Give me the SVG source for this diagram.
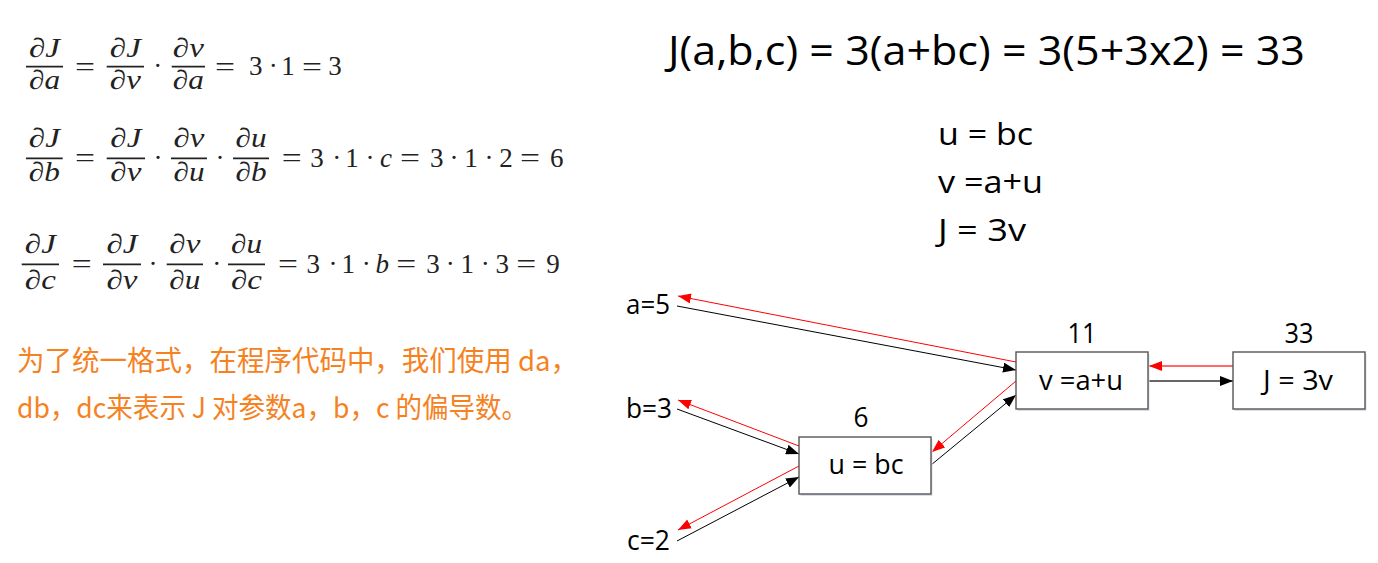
<svg xmlns="http://www.w3.org/2000/svg" width="1378" height="563" viewBox="0 0 1378 563">
<defs>
<style>
.m{font-family:"Liberation Serif","DejaVu Serif",serif;font-size:27px;fill:#222;text-anchor:middle}
.mi{font-style:italic}
.bar{stroke:#222;stroke-width:1.7}
.cn{font-family:"Noto Sans CJK SC","Microsoft YaHei",sans-serif;font-size:28px;fill:#F5821F}
.t{font-family:"Open Sans","Liberation Sans",sans-serif;fill:#000}
.lbl{font-size:27px;text-anchor:middle}
.box{fill:#fff;stroke:#555;stroke-width:1.4}
.shadow{fill:#d9e0ea}
.blk{stroke:#000;stroke-width:1;fill:none;marker-end:url(#ah-b)}
.red{stroke:#ff0000;stroke-width:1;fill:none;marker-end:url(#ah-r)}
.gry{stroke:#666;stroke-width:2;fill:none;marker-end:url(#ah-b)}
.pink{stroke:#ff6a6a;stroke-width:2.2;fill:none;marker-end:url(#ah-r)}
</style>
<marker id="ah-b" markerUnits="userSpaceOnUse" markerWidth="14" markerHeight="10" refX="13" refY="5" orient="auto"><path d="M0,0 L13,5 L0,10 z" fill="#000"/></marker>
<marker id="ah-r" markerUnits="userSpaceOnUse" markerWidth="14" markerHeight="10" refX="13" refY="5" orient="auto"><path d="M0,0 L13,5 L0,10 z" fill="#ff0000"/></marker>
</defs>
<rect width="1378" height="563" fill="#fff"/>

<!-- Left: equations -->
<g id="eq1">
<line class="bar" x1="26" y1="66.7" x2="63" y2="66.7"/>
<text class="m mi" x="44.5" y="57" textLength="31" lengthAdjust="spacingAndGlyphs">∂J</text>
<text class="m mi" x="44.5" y="89" textLength="31" lengthAdjust="spacingAndGlyphs">∂a</text>
<text class="m" x="85" y="75.5" textLength="20" lengthAdjust="spacingAndGlyphs">=</text>
<line class="bar" x1="106.7" y1="66.7" x2="144" y2="66.7"/>
<text class="m mi" x="125.3" y="57" textLength="31" lengthAdjust="spacingAndGlyphs">∂J</text>
<text class="m mi" x="125.3" y="89" textLength="31" lengthAdjust="spacingAndGlyphs">∂v</text>
<text class="m" x="157.7" y="75">·</text>
<line class="bar" x1="171.7" y1="66.7" x2="205" y2="66.7"/>
<text class="m mi" x="188.3" y="57" textLength="31" lengthAdjust="spacingAndGlyphs">∂v</text>
<text class="m mi" x="188.3" y="89" textLength="31" lengthAdjust="spacingAndGlyphs">∂a</text>
<text class="m" x="225" y="75.5" textLength="20" lengthAdjust="spacingAndGlyphs">=</text>
<text class="m" x="255.8" y="75">3</text>
<text class="m" x="273.3" y="75">·</text>
<text class="m" x="288" y="75">1</text>
<text class="m" x="312" y="75.5" textLength="20" lengthAdjust="spacingAndGlyphs">=</text>
<text class="m" x="335" y="75">3</text>
</g>

<g id="eq2">
<line class="bar" x1="26" y1="158.3" x2="62.7" y2="158.3"/>
<text class="m mi" x="44.3" y="147" textLength="31" lengthAdjust="spacingAndGlyphs">∂J</text>
<text class="m mi" x="44.3" y="181" textLength="31" lengthAdjust="spacingAndGlyphs">∂b</text>
<text class="m" x="85" y="167" textLength="20" lengthAdjust="spacingAndGlyphs">=</text>
<line class="bar" x1="106.7" y1="158.3" x2="145" y2="158.3"/>
<text class="m mi" x="125.8" y="147" textLength="31" lengthAdjust="spacingAndGlyphs">∂J</text>
<text class="m mi" x="125.8" y="181" textLength="31" lengthAdjust="spacingAndGlyphs">∂v</text>
<text class="m" x="158" y="166.5">·</text>
<line class="bar" x1="171" y1="158.3" x2="207" y2="158.3"/>
<text class="m mi" x="189" y="147" textLength="31" lengthAdjust="spacingAndGlyphs">∂v</text>
<text class="m mi" x="189" y="181" textLength="31" lengthAdjust="spacingAndGlyphs">∂u</text>
<text class="m" x="220" y="166.5">·</text>
<line class="bar" x1="233" y1="158.3" x2="269" y2="158.3"/>
<text class="m mi" x="251" y="147" textLength="31" lengthAdjust="spacingAndGlyphs">∂u</text>
<text class="m mi" x="251" y="181" textLength="31" lengthAdjust="spacingAndGlyphs">∂b</text>
<text class="m" x="291.7" y="167" textLength="20" lengthAdjust="spacingAndGlyphs">=</text>
<text class="m" x="317" y="166.5">3</text>
<text class="m" x="336.7" y="166.5">·</text>
<text class="m" x="352" y="166.5">1</text>
<text class="m" x="370" y="166.5">·</text>
<text class="m mi" x="386" y="166.5">c</text>
<text class="m" x="410" y="167" textLength="20" lengthAdjust="spacingAndGlyphs">=</text>
<text class="m" x="436.7" y="166.5">3</text>
<text class="m" x="454" y="166.5">·</text>
<text class="m" x="471" y="166.5">1</text>
<text class="m" x="489" y="166.5">·</text>
<text class="m" x="506" y="166.5">2</text>
<text class="m" x="530" y="167" textLength="20" lengthAdjust="spacingAndGlyphs">=</text>
<text class="m" x="556.7" y="166.5">6</text>
</g>

<g id="eq3">
<line class="bar" x1="21.7" y1="264.3" x2="59" y2="264.3"/>
<text class="m mi" x="40.3" y="253" textLength="31" lengthAdjust="spacingAndGlyphs">∂J</text>
<text class="m mi" x="40.3" y="289" textLength="31" lengthAdjust="spacingAndGlyphs">∂c</text>
<text class="m" x="81.8" y="273" textLength="20" lengthAdjust="spacingAndGlyphs">=</text>
<line class="bar" x1="103" y1="264.3" x2="141" y2="264.3"/>
<text class="m mi" x="122" y="253" textLength="31" lengthAdjust="spacingAndGlyphs">∂J</text>
<text class="m mi" x="122" y="289" textLength="31" lengthAdjust="spacingAndGlyphs">∂v</text>
<text class="m" x="153" y="272.5">·</text>
<line class="bar" x1="166.7" y1="264.3" x2="203" y2="264.3"/>
<text class="m mi" x="184.8" y="253" textLength="31" lengthAdjust="spacingAndGlyphs">∂v</text>
<text class="m mi" x="184.8" y="289" textLength="31" lengthAdjust="spacingAndGlyphs">∂u</text>
<text class="m" x="216.7" y="272.5">·</text>
<line class="bar" x1="228" y1="264.3" x2="265" y2="264.3"/>
<text class="m mi" x="246.5" y="253" textLength="31" lengthAdjust="spacingAndGlyphs">∂u</text>
<text class="m mi" x="246.5" y="289" textLength="31" lengthAdjust="spacingAndGlyphs">∂c</text>
<text class="m" x="288" y="273" textLength="20" lengthAdjust="spacingAndGlyphs">=</text>
<text class="m" x="313.3" y="272.5">3</text>
<text class="m" x="333" y="272.5">·</text>
<text class="m" x="348.3" y="272.5">1</text>
<text class="m" x="366.3" y="272.5">·</text>
<text class="m mi" x="382.3" y="272.5">b</text>
<text class="m" x="406.3" y="273" textLength="20" lengthAdjust="spacingAndGlyphs">=</text>
<text class="m" x="433" y="272.5">3</text>
<text class="m" x="450.3" y="272.5">·</text>
<text class="m" x="467.3" y="272.5">1</text>
<text class="m" x="485.3" y="272.5">·</text>
<text class="m" x="502.3" y="272.5">3</text>
<text class="m" x="526.3" y="273" textLength="20" lengthAdjust="spacingAndGlyphs">=</text>
<text class="m" x="553" y="272.5">9</text>
</g>

<g id="note">
<text class="cn" x="17" y="371" textLength="561" lengthAdjust="spacingAndGlyphs">为了统一格式，在程序代码中，我们使用 da，</text>
<text class="cn" x="17" y="418" textLength="511" lengthAdjust="spacingAndGlyphs">db，dc来表示 J 对参数a，b，c 的偏导数。</text>
</g>

<!-- Right: formulas -->
<g id="title">
<text class="t" x="668" y="65" font-size="40" textLength="637" lengthAdjust="spacingAndGlyphs">J(a,b,c) = 3(a+bc) = 3(5+3x2) = 33</text>
</g>
<g id="defs-text">
<text class="t" x="938" y="145" font-size="31" textLength="95" lengthAdjust="spacingAndGlyphs">u = bc</text>
<text class="t" x="938" y="193" font-size="31" textLength="105" lengthAdjust="spacingAndGlyphs">v =a+u</text>
<text class="t" x="938" y="241" font-size="31" textLength="88" lengthAdjust="spacingAndGlyphs">J = 3v</text>
</g>

<!-- Connectors -->
<g id="connectors">
<line class="blk" x1="677" y1="306" x2="1016" y2="370"/>
<line class="red" x1="1016" y1="362" x2="678" y2="296"/>
<line class="blk" x1="677" y1="409" x2="799" y2="454"/>
<line class="red" x1="799" y1="446" x2="678" y2="400"/>
<line class="blk" x1="677" y1="541" x2="799" y2="477"/>
<line class="red" x1="799" y1="466" x2="678" y2="530"/>
<line class="blk" x1="931" y1="465" x2="1016" y2="395"/>
<line class="red" x1="1016" y1="381" x2="932" y2="452"/>
<line class="gry" x1="1149" y1="381" x2="1233" y2="381"/>
<line class="pink" x1="1233" y1="366" x2="1149" y2="366"/>
</g>

<!-- Input nodes -->
<g id="node-a"><text class="t" x="626" y="314" font-size="27" textLength="44" lengthAdjust="spacingAndGlyphs">a=5</text></g>
<g id="node-b"><text class="t" x="626" y="418" font-size="27" textLength="46" lengthAdjust="spacingAndGlyphs">b=3</text></g>
<g id="node-c"><text class="t" x="627" y="550" font-size="27" textLength="43" lengthAdjust="spacingAndGlyphs">c=2</text></g>

<!-- Compute nodes -->
<g id="node-u">
<rect class="shadow" x="800.5" y="439" width="132" height="57"/>
<rect class="box" x="799" y="437" width="132" height="57"/>
<text class="t lbl" x="866" y="474" textLength="75" lengthAdjust="spacingAndGlyphs">u = bc</text>
<text class="t lbl" x="861" y="427" textLength="15" lengthAdjust="spacingAndGlyphs">6</text>
</g>
<g id="node-v">
<rect class="shadow" x="1017.5" y="354" width="132" height="57"/>
<rect class="box" x="1016" y="352" width="132" height="57"/>
<text class="t lbl" x="1081" y="390" textLength="84" lengthAdjust="spacingAndGlyphs">v =a+u</text>
<text class="t lbl" x="1082" y="343" textLength="29" lengthAdjust="spacingAndGlyphs">11</text>
</g>
<g id="node-J">
<rect class="shadow" x="1234.5" y="354" width="132" height="57"/>
<rect class="box" x="1233" y="352" width="132" height="57"/>
<text class="t lbl" x="1298" y="390" textLength="70" lengthAdjust="spacingAndGlyphs">J = 3v</text>
<text class="t lbl" x="1299" y="343" textLength="29" lengthAdjust="spacingAndGlyphs">33</text>
</g>
</svg>
